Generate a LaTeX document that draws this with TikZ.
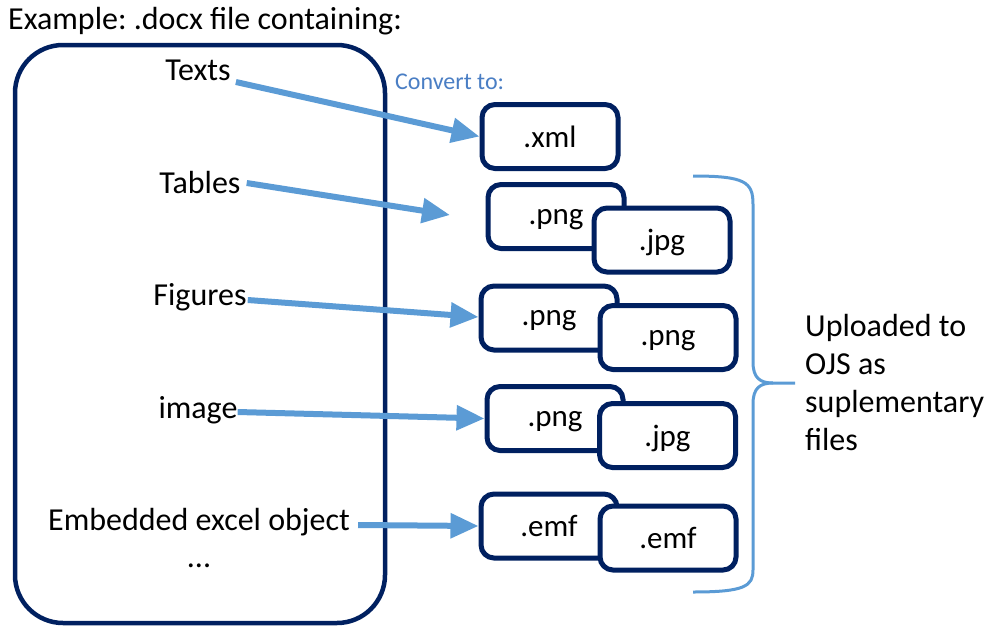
\documentclass[tikz,border=0pt]{standalone}
\usepackage{fontspec}
\setmainfont{Carlito}
\usetikzlibrary{arrows.meta}
\definecolor{navy}{HTML}{002060}
\definecolor{arrowblue}{HTML}{5B9BD5}
\definecolor{convblue}{HTML}{4A7EC4}
\frenchspacing
\begin{document}
\begin{tikzpicture}[x=1pt, y=-1pt,
    item/.style={font=\fontsize{32}{38}\selectfont, inner sep=0pt},
    filebox/.style={draw=navy, line width=5pt, rounded corners=13pt, fill=white,
        minimum width=136pt, minimum height=64pt, text depth=0pt,
        font=\fontsize{31}{36}\selectfont},
    convarrow/.style={arrowblue, line width=6pt, -{Triangle[length=28pt, width=24pt]}}]
\useasboundingbox (0,0) rectangle (989,630);

% Title and document box
\node[item, anchor=west] (title) at (8,21) {Example: .docx file containing:};
\node[draw=navy, line width=4.5pt, rounded corners=48pt,
      minimum width=370pt, minimum height=578pt] (docx) at (200,334) {};

% Contents of the document
\node[item] (texts) at (198,70) {Texts};
\node[item] (tables) at (200,183) {Tables};
\node[item] (figures) at (200,297) {Figures};
\node[item] (image) at (198,410) {image};
\node[item] (excel) at (199,522) {Embedded excel object};
\node[item] (dots) at (199,566) {...};

% Converted files
\node[font=\fontsize{24}{28}\selectfont, text=convblue, anchor=west, inner sep=0pt]
    (convert) at (395,82) {Convert to:};
\node[filebox] (xml) at (550,136.5) {.xml};
\node[filebox] (tabpng) at (556,216.5) {.png};
\node[filebox] (tabjpg) at (662,240) {.jpg};
\node[filebox] (figpnga) at (549,318) {.png};
\node[filebox] (figpngb) at (668,337.5) {.png};
\node[filebox] (imgpng) at (555,418.5) {.png};
\node[filebox] (imgjpg) at (667.5,435.5) {.jpg};
\node[filebox] (emfa) at (549,526) {.emf};
\node[filebox] (emfb) at (668,538) {.emf};

% Arrows
\coordinate (tabtip) at (450,215);
\draw[convarrow] ([shift={(5,12)}]texts.east) -- (xml.west);
\draw[convarrow] ([xshift=6pt]tables.east) -- (tabtip);
\draw[convarrow] ([shift={(1,3)}]figures.east) -- ([yshift=1pt]figpnga.west);
\draw[convarrow] ([shift={(0,2)}]image.east) -- (imgpng.west);
\draw[convarrow] ([shift={(8,3)}]excel.east) -- (emfa.west);

% Brace and note
\coordinate (bracetip) at (795,383);
\draw[arrowblue, line width=3pt]
    (693,176) .. controls (745,176) and (753,182) .. (753,204)
    -- (753,362) .. controls (753,378) and (760,383) .. (773,383) -- (bracetip);
\draw[arrowblue, line width=3pt]
    (773,383) .. controls (760,383) and (753,388) .. (753,404)
    -- (753,570) .. controls (753,586) and (745,592) .. (693,592);
\node[item, anchor=north west, align=left] (note) at (805,314)
    {Uploaded to\\OJS as\\suplementary\\files};
\end{tikzpicture}
\end{document}
